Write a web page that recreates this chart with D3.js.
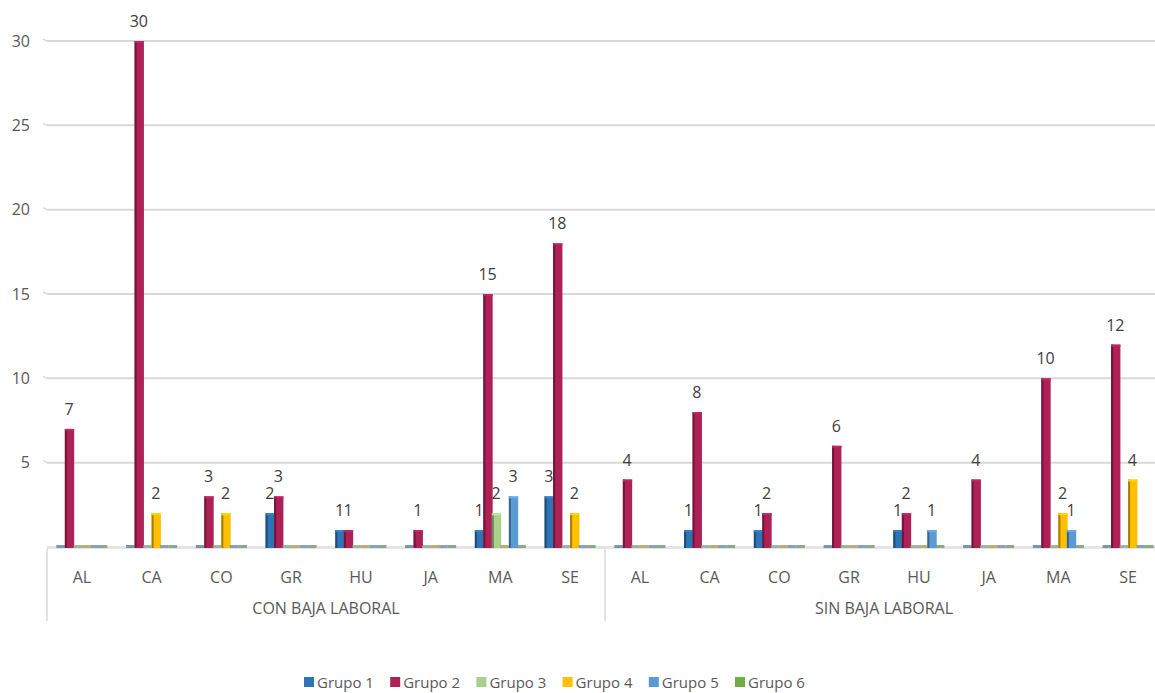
<!DOCTYPE html>
<html><head><meta charset="utf-8">
<script src="https://cdn.jsdelivr.net/npm/d3@7"></script>
<style>body{margin:0;background:#fff}svg{display:block;font-family:"Open Sans",sans-serif}</style>
</head><body><svg id="c" width="1155" height="693"></svg>
<script>
const groups = ["CON BAJA LABORAL", "SIN BAJA LABORAL"];
const categories = ["AL","CA","CO","GR","HU","JA","MA","SE"];
const seriesNames = ["Grupo 1","Grupo 2","Grupo 3","Grupo 4","Grupo 5","Grupo 6"];
const seriesColors = ["#2E75B6","#AD2157","#A9D18E","#FFC000","#5B9BD5","#70AD47"];
// values per series, 16 entries: CON (AL..SE), SIN (AL..SE)
const grupo1 = [0,0,0,2,1,0,1,3, 0,1,1,0,1,0,0,0];
const grupo2 = [7,30,3,3,1,1,15,18, 4,8,2,6,2,4,10,12];
const grupo3 = [0,0,0,0,0,0,2,0, 0,0,0,0,0,0,0,0];
const grupo4 = [0,2,2,0,0,0,0,2, 0,0,0,0,0,0,2,4];
const grupo5 = [0,0,0,0,0,0,3,0, 0,0,0,0,1,0,1,0];
const grupo6 = [0,0,0,0,0,0,0,0, 0,0,0,0,0,0,0,0];
const yTicks = [5,10,15,20,25,30];

const seriesValues = [grupo1,grupo2,grupo3,grupo4,grupo5,grupo6];
const slots = [];
groups.forEach((g,gi)=>categories.forEach((c,ci)=>slots.push({g,c,i:gi*categories.length+ci})));

const svg = d3.select("#c");
const left = 47, right = 47 + 16*69.75, y0 = 547, yTop = 41;
const x = d3.scaleBand().domain(slots.map(d=>d.i)).range([left,right]).padding(0);
const xIn = d3.scaleBand().domain(d3.range(6)).range([0,x.bandwidth()]).paddingOuter(1.1).paddingInner(0);
const y = d3.scaleLinear().domain([0,30]).range([y0,yTop]);
const textCol = "#595959", gridCol = "#d9d9d9", fs = 16;

// gridlines
svg.append("g").selectAll("line").data(yTicks).join("line")
  .attr("x1",left).attr("x2",1155).attr("y1",d=>y(d)).attr("y2",d=>y(d))
  .attr("stroke",gridCol).attr("stroke-width",2);
svg.append("g").selectAll("line").data(yTicks).join("line")
  .attr("x1",left-4).attr("x2",left).attr("y1",d=>y(d)-2).attr("y2",d=>y(d))
  .attr("stroke",gridCol).attr("stroke-width",1.5);
// y labels
const yAxis = d3.axisLeft(y).tickValues(yTicks).tickSize(0).tickPadding(0);
const ga = svg.append("g").attr("transform",`translate(30,0)`).call(yAxis);
ga.select(".domain").remove();
ga.selectAll("text").attr("fill",textCol).attr("font-size",fs).attr("font-family","Open Sans, sans-serif");

// floor
svg.append("rect").attr("x",left).attr("y",y0-1).attr("width",1155-left).attr("height",3).attr("fill","#e4e4e4");

// bars
const bars = [];
seriesValues.forEach((vals,s)=>vals.forEach((v,i)=>bars.push({s,i,v})));
const bw = xIn.bandwidth();
const bg = svg.append("g");
bars.forEach(d=>{
  const bx = x(d.i) + xIn(d.s);
  const col = seriesColors[d.s];
  if (d.v === 0) {
    bg.append("rect").attr("x",bx).attr("y",y0-2).attr("width",bw).attr("height",3)
      .attr("fill",d3.interpolateRgb(col,"#7a8795")(0.6)).attr("opacity",0.8);
  } else {
    bg.append("rect").attr("x",bx).attr("y",y(d.v)).attr("width",bw+0.8).attr("height",y0-y(d.v)+1).attr("fill",col);
    bg.append("rect").attr("x",bx).attr("y",y(d.v)).attr("width",2).attr("height",y0-y(d.v)+1)
      .attr("fill",d3.color(col).darker(1.2));
    bg.append("rect").attr("x",bx).attr("y",y(d.v)).attr("width",bw+0.8).attr("height",2)
      .attr("fill",d3.color(col).brighter(0.3));
  }
});
// data labels
svg.append("g").selectAll("text").data(bars.filter(d=>d.v>0)).join("text")
  .attr("x",d=>x(d.i)+xIn(d.s)+bw/2).attr("y",d=>y(d.v)-14)
  .attr("text-anchor","middle").attr("font-size",fs).attr("fill","#404040").text(d=>d.v);

// category labels
svg.append("g").selectAll("text").data(slots).join("text")
  .attr("x",d=>x(d.i)+x.bandwidth()/2).attr("y",583).attr("text-anchor","middle")
  .attr("font-size",fs).attr("fill",textCol).text(d=>d.c);
// group labels
svg.append("g").selectAll("text").data(groups).join("text")
  .attr("x",(d,gi)=>x(gi*8)+4*x.bandwidth()).attr("y",614).attr("text-anchor","middle")
  .attr("font-size",fs).attr("fill",textCol).text(d=>d);
// separators
svg.append("g").selectAll("line").data([0,8]).join("line")
  .attr("x1",d=>x(d)).attr("x2",d=>x(d)).attr("y1",y0+2).attr("y2",621)
  .attr("stroke",gridCol).attr("stroke-width",1.5);

// legend
const lg = svg.append("g");
seriesNames.forEach((n,s)=>{
  const lx = 304 + s*86.2;
  lg.append("rect").attr("x",lx).attr("y",677).attr("width",10).attr("height",10).attr("fill",seriesColors[s]);
  lg.append("text").attr("x",lx+13).attr("y",687.5).attr("font-size",15).attr("fill",textCol).text(n);
});
</script></body></html>
